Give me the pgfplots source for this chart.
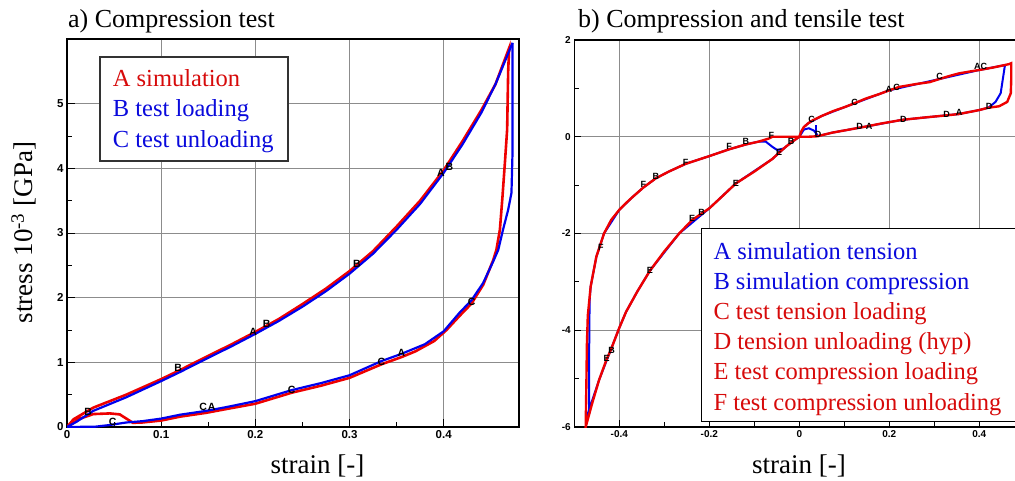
\documentclass[border=0pt]{standalone}
\usepackage{pgfplots}
\pgfplotsset{compat=1.18}
\usepackage{fontspec}
\setmainfont{Liberation Serif}
\setsansfont{Liberation Sans}
\definecolor{cred}{RGB}{238,0,0}
\definecolor{cblue}{RGB}{0,0,238}
\definecolor{tred}{RGB}{215,10,10}
\definecolor{tblue}{RGB}{10,10,220}
\pgfplotsset{
  base/.style={scale only axis, anchor=south west,
    axis line style={black, line width=1.1pt},
    tick pos=left, tick align=inside,
    major tick length=8pt, minor tick length=5pt,
    tick style={black, line width=0.9pt},
    grid=major, grid style={gray!90, line width=0.8pt},
  },
  letters/.style={only marks, mark=none, nodes near coords, point meta=explicit symbolic,
    every node near coord/.append style={anchor=center, inner sep=0pt, text=black, font=\sffamily\bfseries\fontsize{#1}{#1}\selectfont}},
}
\begin{document}
\begin{tikzpicture}
\path[use as bounding box] (0pt,0pt) rectangle (1015pt,480pt);
% ---------------- left axis
\begin{axis}[base, at={(67pt,53pt)}, width=452pt, height=388pt,
  xmin=0, xmax=0.48, ymin=0, ymax=6,
  xtick={0,0.1,0.2,0.3,0.4}, xticklabels={0,0.1,0.2,0.3,0.4},
  ytick={0,1,2,3,4,5}, yticklabels={0,1,2,3,4,5},
  minor x tick num=1, minor y tick num=1,
  ticklabel style={font=\sffamily\bfseries\fontsize{11.5}{12}\selectfont},
]
% A simulation (red)
\addplot[cred, line width=2.6pt] coordinates {
(0,0)(0.007,0.12)(0.028,0.30)(0.063,0.50)(0.1,0.74)(0.12,0.88)(0.15,1.10)(0.175,1.28)(0.2,1.47)(0.225,1.67)(0.25,1.90)(0.275,2.14)(0.3,2.41)(0.325,2.72)(0.35,3.10)(0.375,3.50)(0.4,3.97)(0.42,4.42)(0.44,4.90)(0.455,5.30)(0.4695,5.86)
(0.4685,5.5)(0.4674,4.6)(0.465,4.08)(0.4625,3.57)(0.4597,3.05)(0.456,2.74)(0.4526,2.58)(0.442,2.20)(0.4296,1.91)(0.417,1.72)(0.403,1.50)(0.39,1.33)(0.37,1.17)(0.355,1.08)(0.334,0.97)(0.3,0.76)(0.27,0.64)(0.2385,0.53)(0.2,0.36)(0.17,0.28)(0.148,0.22)(0.12,0.16)(0.1,0.10)(0.08,0.07)(0.07,0.065)(0.063,0.13)(0.056,0.195)(0.0456,0.21)(0.028,0.20)(0.014,0.13)(0,0)
};
% B test loading (blue)
\addplot[cblue, line width=2.2pt] coordinates {
(0,0)(0.01,0.08)(0.028,0.25)(0.063,0.46)(0.1,0.71)(0.12,0.85)(0.15,1.07)(0.175,1.25)(0.2,1.44)(0.225,1.64)(0.25,1.86)(0.275,2.10)(0.3,2.37)(0.325,2.68)(0.35,3.05)(0.375,3.45)(0.4,3.93)(0.42,4.37)(0.44,4.86)(0.455,5.30)(0.4731,5.94)
};
% C test unloading (blue)
\addplot[cblue, line width=2.2pt] coordinates {
(0.4731,5.94)(0.4731,4.24)(0.472,3.62)(0.4685,3.36)(0.463,3.05)(0.458,2.74)(0.4526,2.56)(0.442,2.23)(0.4296,1.96)(0.417,1.77)(0.4,1.48)(0.38,1.28)(0.355,1.13)(0.334,1.02)(0.3,0.80)(0.27,0.68)(0.2385,0.57)(0.2,0.40)(0.17,0.31)(0.148,0.25)(0.12,0.19)(0.1,0.13)(0.08,0.09)(0.063,0.07)(0.045,0.03)(0.03,0.005)(0,0)
};
\addplot[letters=10.5] coordinates {
(0.0226,0.237)[B] (0.0485,0.08)[C] (0.118,0.908)[B] (0.1978,1.475)[A] (0.212,1.595)[B]
(0.308,2.52)[B] (0.397,3.93)[A] (0.406,4.02)[B] (0.4296,1.94)[C] (0.334,1.01)[C] (0.355,1.14)[A]
(0.2385,0.573)[C] (0.1447,0.305)[C] (0.1536,0.305)[A]
};
\end{axis}
% ---------------- right axis
\begin{axis}[base, at={(574.3pt,53pt)}, width=441pt, height=387pt,
  xmin=-0.5, xmax=0.48, ymin=-6, ymax=2,
  xtick={-0.4,-0.2,0,0.2,0.4}, xticklabels={-0.4,-0.2,0,0.2,0.4},
  ytick={-6,-4,-2,0,2}, yticklabels={-6,-4,-2,0,2},
  minor x tick num=1, minor y tick num=1,
  major tick length=7pt, minor tick length=5pt,
  ticklabel style={font=\sffamily\bfseries\fontsize{10}{10}\selectfont},
]
% A simulation tension (blue)
\addplot[cblue, line width=2pt] coordinates {
(0.01,0.2)(0.02,0.28)(0.05,0.43)(0.1,0.61)(0.2,0.96)(0.31,1.19)(0.4,1.38)(0.457,1.48)(0.4475,0.90)(0.436,0.72)(0.42,0.60)(0.399,0.55)(0.355,0.47)(0.229,0.35)(0.1475,0.21)(0.0733,0.085)(0.04,0.01)
};
\addplot[cblue, line width=2pt] coordinates {
(0,0)(0.0104,0.15)(0.0215,0.175)(0.0326,0.125)(0.039,0.05)(0.039,0.0)
};
\addplot[cblue, line width=2pt] coordinates {(0.038,0.0)(0.038,0.25)};
% B simulation compression (blue)
\addplot[cblue, line width=2pt] coordinates {
(0,0)(-0.0156,-0.103)(-0.03,-0.207)(-0.06,-0.46)(-0.141,-0.965)(-0.2,-1.48)(-0.267,-2.0)(-0.332,-2.77)(-0.36,-3.2)(-0.385,-3.62)(-0.4,-3.95)(-0.445,-5.03)(-0.471,-5.75)
(-0.467,-5.72)(-0.467,-4.5)(-0.466,-3.4)(-0.4637,-3.1)(-0.451,-2.48)(-0.434,-2.0)(-0.4,-1.51)(-0.371,-1.25)(-0.3466,-1.05)(-0.319,-0.86)(-0.29,-0.72)(-0.2525,-0.56)(-0.2,-0.40)(-0.156,-0.26)(-0.119,-0.16)(-0.09,-0.10)(-0.0747,-0.10)(-0.06,-0.207)(-0.049,-0.275)(-0.034,-0.24)(-0.019,-0.124)(0,0)
};
% C test tension loading + D tension unloading (red)
\addplot[cred, line width=2.4pt] coordinates {
(0,0)(0.005,0.12)(0.01,0.2)(0.02,0.28)(0.03,0.34)(0.05,0.43)(0.075,0.53)(0.1,0.61)(0.122,0.69)(0.148,0.79)(0.177,0.88)(0.2,0.96)(0.222,1.03)(0.26,1.09)(0.29,1.13)(0.31,1.19)(0.335,1.26)(0.355,1.31)(0.38,1.35)(0.4,1.38)(0.43,1.43)(0.4656,1.50)(0.471,1.52)
(0.471,1.2)(0.47,0.90)(0.462,0.72)(0.444,0.63)(0.42,0.60)(0.399,0.55)(0.355,0.47)(0.325,0.44)(0.28,0.40)(0.229,0.35)(0.18,0.27)(0.1475,0.21)(0.1,0.13)(0.0733,0.085)(0.04,0.01)(0.02,0.0)(0,0)
};
% E test compression loading + F unloading (red)
\addplot[cred, line width=2.4pt] coordinates {
(0,0)(-0.0156,-0.103)(-0.03,-0.207)(-0.045,-0.33)(-0.06,-0.46)(-0.1,-0.72)(-0.141,-0.965)(-0.17,-1.22)(-0.2,-1.48)(-0.238,-1.72)(-0.267,-2.0)(-0.3,-2.37)(-0.332,-2.77)(-0.36,-3.2)(-0.385,-3.62)(-0.4,-3.95)(-0.419,-4.41)(-0.429,-4.62)(-0.445,-5.03)(-0.46,-5.5)(-0.4747,-6.0)
(-0.473,-5.0)(-0.472,-4.3)(-0.47,-3.7)(-0.4637,-3.1)(-0.451,-2.48)(-0.434,-2.0)(-0.418,-1.72)(-0.4,-1.51)(-0.385,-1.37)(-0.371,-1.25)(-0.3466,-1.05)(-0.319,-0.86)(-0.29,-0.72)(-0.2525,-0.56)(-0.2,-0.40)(-0.156,-0.26)(-0.119,-0.16)(-0.09,-0.10)(-0.067,-0.035)(-0.06,0)(0,0)
};
\addplot[letters=9] coordinates {
(0.403,1.45)[AC] (0.312,1.24)[C] (0.199,0.98)[A] (0.216,1.02)[C] (0.123,0.71)[C] (0.0275,0.36)[C]
(0.0416,0.05)[D] (0.134,0.22)[D] (0.155,0.22)[A] (0.231,0.36)[D] (0.3275,0.46)[D] (0.355,0.50)[A] (0.4216,0.635)[D]
(-0.062,0.02)[F] (-0.045,-0.32)[E] (-0.018,-0.10)[B] (-0.119,-0.10)[B] (-0.156,-0.19)[F] (-0.2525,-0.53)[F]
(-0.319,-0.83)[B] (-0.3466,-0.985)[F] (-0.141,-0.965)[E] (-0.238,-1.69)[E] (-0.217,-1.57)[B] (-0.441,-2.28)[F]
(-0.332,-2.77)[E] (-0.417,-4.41)[B] (-0.428,-4.59)[E]
};
\end{axis}
% ---------------- titles and labels
\node[anchor=base west, font=\fontsize{26}{28}\selectfont, inner sep=0pt] at (68pt,452pt) {a) Compression test};
\node[anchor=base west, font=\fontsize{26}{28}\selectfont, inner sep=0pt] at (578pt,452pt) {b) Compression and tensile test};
\node[anchor=base, font=\fontsize{27}{29}\selectfont, inner sep=0pt] at (317.5pt,7pt) {strain [-]};
\node[anchor=base, font=\fontsize{27}{29}\selectfont, inner sep=0pt] at (799pt,7pt) {strain [-]};
\node[rotate=90, font=\fontsize{27}{29}\selectfont, inner sep=0pt] at (24pt,247.5pt) {stress 10\textsuperscript{-3} [GPa]};
% ---------------- legends
\draw[fill=white, draw=black!80, line width=1.1pt] (100pt,319pt) rectangle (288pt,423pt);
\begin{scope}[every node/.style={anchor=base west, inner sep=0pt, font=\fontsize{24.5}{26}\selectfont}]
\node[text=tred] at (112.7pt,393.3pt) {A simulation};
\node[text=tblue] at (112.7pt,363.3pt) {B test loading};
\node[text=tblue] at (112.7pt,332.7pt) {C test unloading};
\end{scope}
\draw[fill=white, draw=black, line width=1.1pt] (701.7pt,58.3pt) rectangle (1017pt,251.7pt);
\begin{scope}[every node/.style={anchor=base west, inner sep=0pt, font=\fontsize{24.5}{26}\selectfont}]
\node[text=tblue] at (713.3pt,221pt) {A simulation tension};
\node[text=tblue] at (713.3pt,190.8pt) {B simulation compression};
\node[text=tred] at (713.3pt,160.6pt) {C test tension loading};
\node[text=tred] at (713.3pt,130.4pt) {D tension unloading (hyp)};
\node[text=tred] at (713.3pt,100.2pt) {E test compression loading};
\node[text=tred] at (713.3pt,70pt) {F test compression unloading};
\end{scope}
\end{tikzpicture}
\end{document}
